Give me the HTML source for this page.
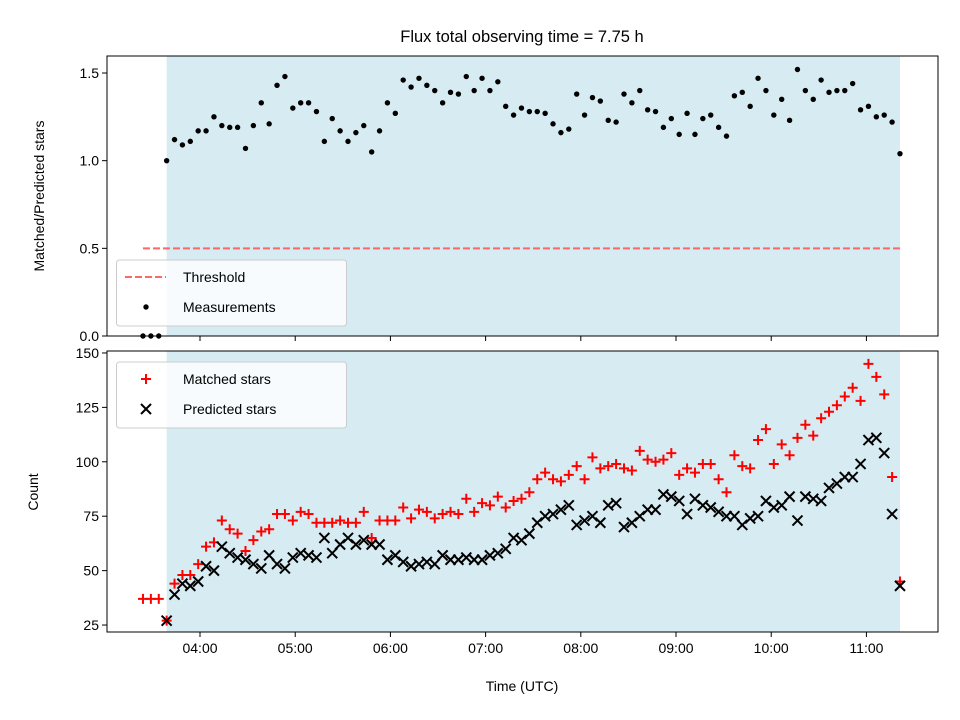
<!DOCTYPE html>
<html><head><meta charset="utf-8"><style>
html,body{margin:0;padding:0;background:#fff;}
svg{display:block;font-family:"Liberation Sans","DejaVu Sans",sans-serif;}
</style></head><body>
<svg id="fig" width="960" height="720" viewBox="0 0 960 720" xmlns="http://www.w3.org/2000/svg">
<text x="522" y="42" text-anchor="middle" font-size="16.5">Flux total observing time = 7.75 h</text>
<g id="topPanel"></g>
<g id="botPanel"></g>
<text x="522" y="691" text-anchor="middle" font-size="14">Time (UTC)</text>
<text transform="translate(44,196) rotate(-90)" text-anchor="middle" font-size="14">Matched/Predicted stars</text>
<text transform="translate(38,492) rotate(-90)" text-anchor="middle" font-size="14">Count</text>
</svg>
<script>
const startHour = 3.401;
const stepHours = 0.08283;
const ratio = [0,0,0,1.00,1.12,1.09,1.11,1.17,1.17,1.25,1.20,1.19,1.19,1.07,1.20,1.33,1.21,1.43,1.48,1.30,1.33,1.33,1.28,1.11,1.24,1.17,1.11,1.16,1.20,1.05,1.17,1.33,1.27,1.46,1.42,1.47,1.43,1.40,1.33,1.39,1.38,1.48,1.40,1.47,1.40,1.45,1.31,1.26,1.30,1.28,1.28,1.27,1.21,1.16,1.18,1.38,1.26,1.36,1.34,1.23,1.22,1.38,1.33,1.40,1.29,1.28,1.19,1.24,1.15,1.27,1.15,1.24,1.26,1.19,1.14,1.37,1.39,1.31,1.47,1.40,1.26,1.35,1.23,1.52,1.40,1.35,1.46,1.39,1.40,1.40,1.44,1.29,1.31,1.25,1.26,1.22,1.04];
const matched = [37,37,37,27,44,48,48,53,61,63,73,69,67,59,64,68,69,76,76,73,77,76,72,72,72,73,72,72,77,65,73,73,73,79,74,78,77,74,76,77,76,83,77,81,80,84,79,82,83,86,92,95,92,91,94,98,92,102,97,98,99,97,96,105,101,100,101,104,94,97,95,99,99,92,86,103,98,97,110,115,99,108,103,111,117,112,120,123,126,130,134,128,145,139,131,93,45];
const predicted = [null,null,null,27,39,44,43,45,52,50,61,58,56,55,53,51,57,53,51,56,58,57,56,65,58,62,65,62,64,62,62,55,57,54,52,53,54,53,57,55,55,56,55,55,57,58,60,65,64,67,72,75,76,78,80,71,73,75,72,80,81,70,72,75,78,78,85,84,82,76,83,80,79,77,75,75,71,74,75,82,79,80,84,73,84,83,82,88,90,93,93,99,110,111,104,76,43];
const threshold = 0.5;
const xTickLabels = ["04:00","05:00","06:00","07:00","08:00","09:00","10:00","11:00"];
const xTickHours = [4,5,6,7,8,9,10,11];
const topYTicks = [0.0,0.5,1.0,1.5];
const botYTicks = [25,50,75,100,125,150];

const NS="http://www.w3.org/2000/svg";
const L=107,R=938;
const xMin=3.023,xMax=11.752;
const X=h=>L+(h-xMin)/(xMax-xMin)*(R-L);
const TT=56,TB=336, BT=351,BB=632;
const Yt=v=>TB-(v-0)/(1.597-0)*(TB-TT);
const Yb=v=>BB-(v-21.8)/(150.9-21.8)*(BB-BT);
const nPts=Math.max(ratio.length,matched.length,predicted.length);
const times=[];
for(let i=0;i<nPts;i++)times.push(startHour+i*stepHours);
function mk(p,tag,a){const e=document.createElementNS(NS,tag);for(const k in a)e.setAttribute(k,a[k]);p.appendChild(e);return e;}
const topG=document.getElementById('topPanel'), botG=document.getElementById('botPanel');
const firstValid=predicted.findIndex(v=>v!==null);
const shadeX0=X(times[firstValid]), shadeX1=X(times[ratio.length-1]);
function frame(g,T,B,name){
  let s=mk(g,'rect',{x:shadeX0,y:T,width:shadeX1-shadeX0,height:B-T,fill:'#add8e6','fill-opacity':0.5});
  
  
  xTickHours.forEach((h,i)=>{
    const t=mk(g,'line',{x1:X(h),x2:X(h),y1:B,y2:B+5,stroke:'#000','stroke-width':1});
    
    
  });
}
frame(topG,TT,TB,'top');
frame(botG,BT,BB,'bottom');
topYTicks.forEach(v=>{
  const l=mk(topG,'line',{x1:L-5,x2:L,y1:Yt(v),y2:Yt(v),stroke:'#000'});
  
  
  const t=mk(topG,'text',{x:L-8,y:Yt(v)+5,'text-anchor':'end','font-size':14});
  t.textContent=v.toFixed(1);
  
  
});
botYTicks.forEach(v=>{
  const l=mk(botG,'line',{x1:L-5,x2:L,y1:Yb(v),y2:Yb(v),stroke:'#000'});
  
  
  const t=mk(botG,'text',{x:L-8,y:Yb(v)+5,'text-anchor':'end','font-size':14});
  t.textContent=v;
  
  
});
xTickHours.forEach((h,i)=>{
  const t=mk(botG,'text',{x:X(h),y:BB+21,'text-anchor':'middle','font-size':14});
  t.textContent=xTickLabels[i];
  
  
});
const th=mk(topG,'line',{x1:X(times[0]),x2:X(times[ratio.length-1]),y1:Yt(threshold),y2:Yt(threshold),stroke:'#ff6666','stroke-width':2,'stroke-dasharray':'7,3'});


ratio.forEach((v,i)=>{
  const c=mk(topG,'circle',{cx:X(times[i]),cy:Yt(v),r:2.7,fill:'#000'});
  
  
});
matched.forEach((v,i)=>{
  const x=X(times[i]),y=Yb(v);
  const p=mk(botG,'path',{d:`M${x-5} ${y}H${x+5}M${x} ${y-5}V${y+5}`,stroke:'#ff0000','stroke-width':2,fill:'none'});
  
  
});
predicted.forEach((v,i)=>{
  if(v===null)return;
  const x=X(times[i]),y=Yb(v);
  const p=mk(botG,'path',{d:`M${x-5} ${y-5}L${x+5} ${y+5}M${x-5} ${y+5}L${x+5} ${y-5}`,stroke:'#000','stroke-width':2,fill:'none'});
  
  
});
[[topG,TT,TB,'top'],[botG,BT,BB,'bottom']].forEach(([g,T,B,n])=>{
  const r=mk(g,'rect',{x:L,y:T,width:R-L,height:B-T,fill:'none',stroke:'#000','stroke-width':1});
  
  
});
function legend(g,y,name,items){
  const box=mk(g,'rect',{x:116.5,y:y,width:230,height:66,rx:3,fill:'#fff','fill-opacity':0.8,stroke:'#cccccc'});
  
  
  items.forEach((it,i)=>{
    const cy=y+17+i*30;
    it.draw(cy);
    const t=mk(g,'text',{x:183,y:cy+5,'font-size':14});
    t.textContent=it.label;
    
    
  });
}
legend(topG,260,'top-legend',[
  {label:'Threshold',draw:cy=>{const l=mk(topG,'line',{x1:125,x2:166,y1:cy,y2:cy,stroke:'#ff6666','stroke-width':2,'stroke-dasharray':'7,3'});}},
  {label:'Measurements',draw:cy=>{const c=mk(topG,'circle',{cx:146,cy:cy,r:2.7,fill:'#000'});}}
]);
legend(botG,362,'bottom-legend',[
  {label:'Matched stars',draw:cy=>{const p=mk(botG,'path',{d:`M141 ${cy}H151M146 ${cy-5}V${cy+5}`,stroke:'#f00','stroke-width':2});}},
  {label:'Predicted stars',draw:cy=>{const p=mk(botG,'path',{d:`M141 ${cy-5}L151 ${cy+5}M141 ${cy+5}L151 ${cy-5}`,stroke:'#000','stroke-width':2});}}
]);
</script>
</body></html>
